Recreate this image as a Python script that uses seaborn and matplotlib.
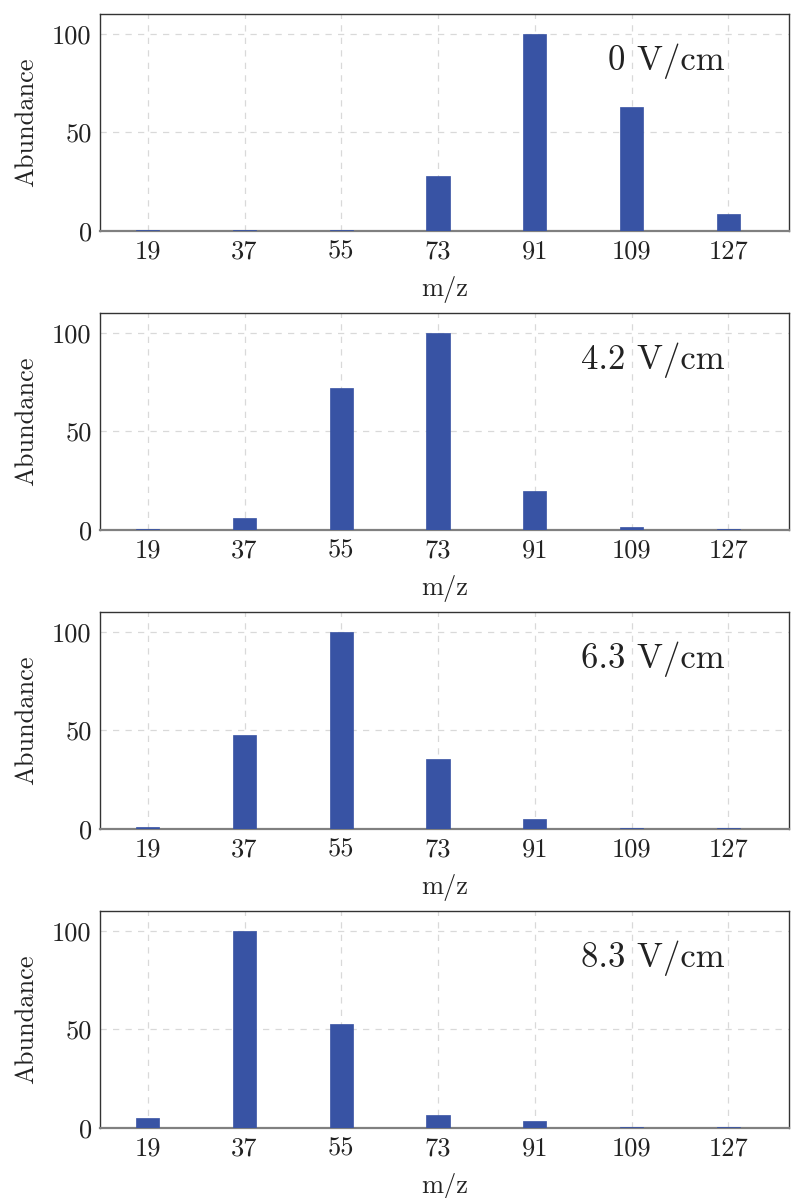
import matplotlib
matplotlib.use("Agg")
import matplotlib.pyplot as plt
import seaborn as sns
import pandas as pd

mz = [19, 37, 55, 73, 91, 109, 127]
fields = ["0 V/cm", "4.2 V/cm", "6.3 V/cm", "8.3 V/cm"]
ab_0 = [0.7, 0.7, 0.7, 28, 100, 63, 8.6]
ab_42 = [0.7, 6.1, 72, 100, 19.8, 1.5, 0.7]
ab_63 = [0.9, 47.7, 100, 35.5, 5.1, 0.7, 0.7]
ab_83 = [5.0, 100, 52.8, 6.6, 3.6, 0.5, 0.5]
series = [ab_0, ab_42, ab_63, ab_83]
yticks = [0, 50, 100]

sns.set_theme(style="white")
plt.rcParams["font.family"] = ["cmr10", "DejaVu Serif"]
plt.rcParams["mathtext.fontset"] = "cm"
plt.rcParams["axes.formatter.use_mathtext"] = True

fig = plt.figure(figsize=(7.91, 11.98), dpi=100)
W, H = 791, 1198
left, right = 100, 789
tops = [14, 313, 612, 911]
height = 217
bar_color = "#3853a4"

for i, (lab, vals) in enumerate(zip(fields, series)):
    top = tops[i]
    ax = fig.add_axes([left / W, 1 - (top + height) / H, (right - left) / W, height / H])
    df = pd.DataFrame({"mz": mz, "ab": vals})
    sns.barplot(data=df, x="mz", y="ab", native_scale=True, width=0.24,
                color=bar_color, saturation=1, edgecolor=bar_color, linewidth=0.5, ax=ax, zorder=4)
    ax.set_xlim(10.1, 138.3)
    ax.set_ylim(0, 110)
    ax.set_xticks(mz)
    ax.set_xticklabels([str(m) for m in mz])
    ax.set_yticks(yticks)
    ax.set_yticklabels([str(t) for t in yticks])
    ax.grid(True, linestyle=(0, (5, 5)), color="#d9d9d9", linewidth=0.9, zorder=0)
    ax.set_axisbelow(True)
    for s in ["top", "right", "left"]:
        ax.spines[s].set_color("#333333")
        ax.spines[s].set_linewidth(1.0)
    ax.spines["bottom"].set_color("#808080")
    ax.spines["bottom"].set_linewidth(1.6)
    ax.spines["bottom"].set_zorder(3)
    ax.tick_params(axis="both", direction="in", length=5, width=0.8, color="#808080",
                   labelsize=19, colors="#333333", pad=6)
    ax.tick_params(axis="x", labelcolor="#222222")
    ax.tick_params(axis="y", labelcolor="#222222", length=4)
    ax.set_xlabel("m/z", fontsize=19, color="#222222", labelpad=9)
    ax.set_ylabel("Abundance", fontsize=19, color="#222222", labelpad=10)
    ax.text(0.907, 0.78, lab, transform=ax.transAxes, ha="right", va="center",
            fontsize=25, color="#222222")

fig.savefig("out.png", dpi=100)
